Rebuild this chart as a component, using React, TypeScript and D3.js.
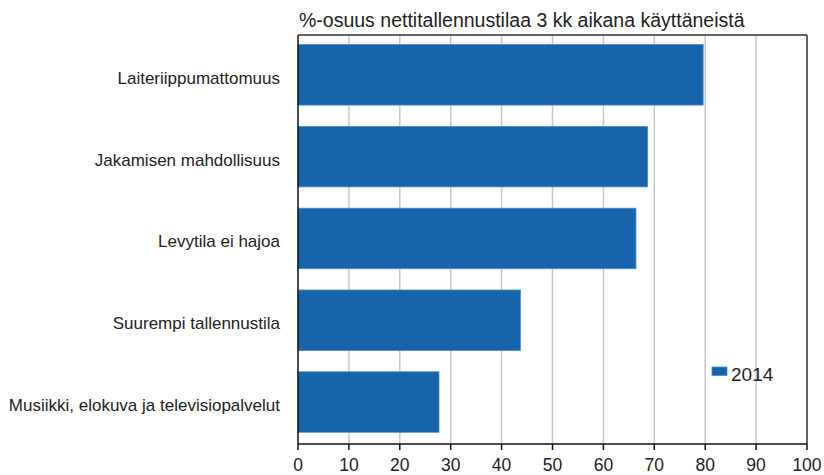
import React from "react";
import * as d3 from "d3";

const categories = [
  "Laiteriippumattomuus",
  "Jakamisen mahdollisuus",
  "Levytila ei hajoa",
  "Suurempi tallennustila",
  "Musiikki, elokuva ja televisiopalvelut",
];
const values2014 = [79.6, 68.7, 66.4, 43.7, 27.7];
const xTicks = [0, 10, 20, 30, 40, 50, 60, 70, 80, 90, 100];
const seriesName = "2014";
const titleText = "%-osuus nettitallennustilaa 3 kk aikana käyttäneistä";

const W = 824;
const H = 475;
const left = 298;
const right = 807;
const top = 35;
const bottom = 444;
const FONT = "'Liberation Sans', Arial, sans-serif";
const BAR = "#1764ab";

export default function App() {
  const x = d3.scaleLinear().domain([0, 100]).range([left, right]);
  const y = d3
    .scaleBand<string>()
    .domain(categories)
    .range([top, bottom])
    .paddingInner(0.26)
    .paddingOuter(0.13)
    .align(0.45);
  const bw = y.bandwidth();

  return (
    <svg
      width={W}
      height={H}
      style={{ position: "absolute", left: 0, top: 0, background: "#fff" }}
      fontFamily={FONT}
    >
      <rect x={0} y={0} width={W} height={H} fill="#fff" />
      <text x={299} y={27} fontSize={19.5} fill="#222">
        {titleText}
      </text>
      {xTicks
        .filter((t) => t > 0 && t < 100)
        .map((t) => (
          <line
            key={"g" + t}
            x1={x(t)}
            x2={x(t)}
            y1={top}
            y2={bottom}
            stroke="#c8c8c8"
            strokeWidth={1.5}
          />
        ))}
      {categories.map((c, i) => (
        <rect
          key={c}
          x={x(0)}
          y={y(c)}
          width={x(values2014[i]) - x(0)}
          height={bw}
          fill={BAR}
          stroke="#4d8fd0"
          strokeWidth={0.8}
        />
      ))}
      <line x1={left} x2={right} y1={top} y2={top} stroke="#333" strokeWidth={1.5} />
      <line x1={right} x2={right} y1={top} y2={bottom} stroke="#333" strokeWidth={1.5} />
      <line x1={left} x2={left} y1={top} y2={bottom} stroke="#111" strokeWidth={1.5} />
      <line x1={left} x2={right} y1={bottom} y2={bottom} stroke="#111" strokeWidth={1.5} />
      {xTicks.map((t) => (
        <g key={"t" + t}>
          <line x1={x(t)} x2={x(t)} y1={bottom} y2={bottom + 6} stroke="#111" strokeWidth={1.5} />
          <text x={x(t)} y={471} fontSize={17.5} textAnchor="middle" fill="#222">
            {t}
          </text>
        </g>
      ))}
      {categories.map((c) => (
        <text
          key={"l" + c}
          x={280}
          y={(y(c) as number) + bw / 2 + 9}
          fontSize={17}
          textAnchor="end"
          fill="#222"
        >
          {c}
        </text>
      ))}
      <rect x={712} y={367} width={15} height={8.5} fill={BAR} stroke="#4d8fd0" strokeWidth={0.8} />
      <text x={731} y={381} fontSize={19} fill="#222">
        {seriesName}
      </text>
    </svg>
  );
}
